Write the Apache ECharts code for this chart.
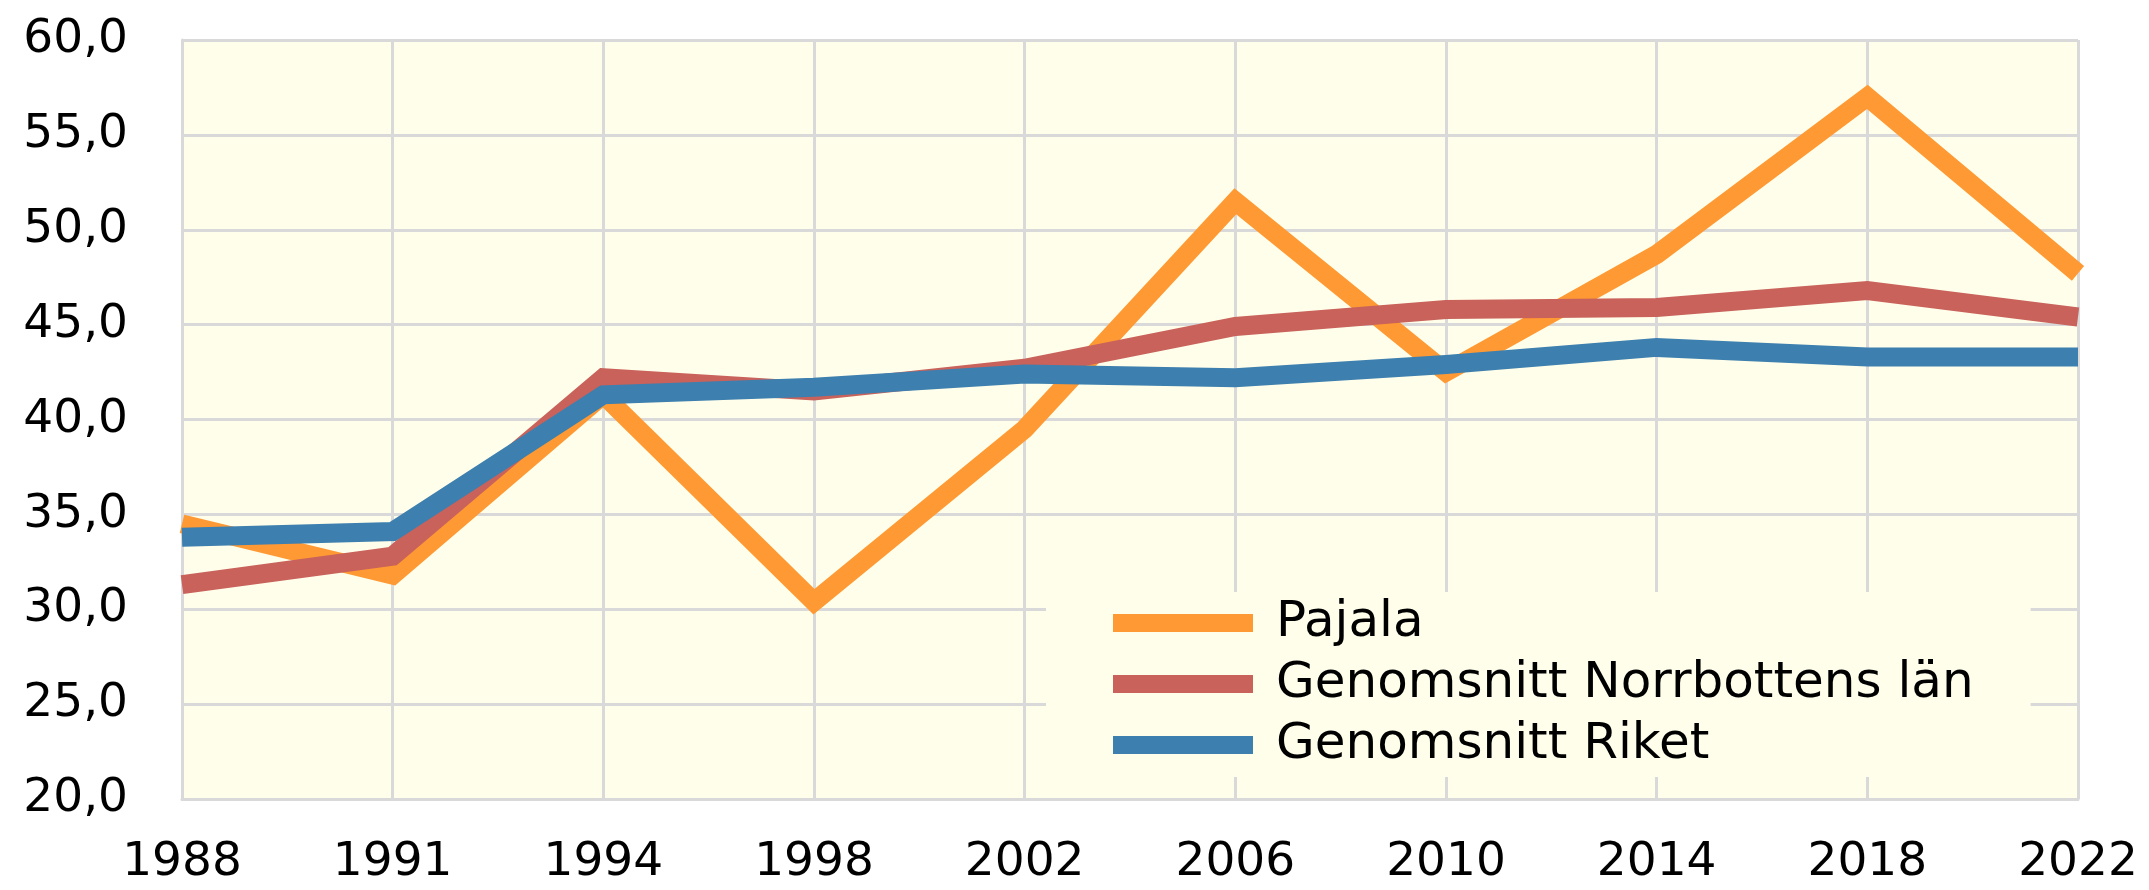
<!DOCTYPE html>
<html>
<head>
<meta charset="utf-8">
<script src="https://cdn.jsdelivr.net/npm/echarts@6/dist/echarts.min.js"></script>
<style>
html,body{margin:0;padding:0;background:#fff;}
#chart{width:2149px;height:890px;}
</style>
</head>
<body>
<div id="chart"></div>
<script>
const years = ['1988','1991','1994','1998','2002','2006','2010','2014','2018','2022'];
const pajala = [34.5, 31.8, 41.3, 30.4, 39.5, 51.5, 42.5, 48.7, 57.0, 47.7];
const norrbotten = [31.3, 32.8, 42.2, 41.5, 42.7, 44.9, 45.8, 45.9, 46.8, 45.4];
const riket = [33.8, 34.1, 41.3, 41.7, 42.4, 42.2, 42.9, 43.8, 43.3, 43.3];
const seriesNames = ['Pajala', 'Genomsnitt Norrbottens län', 'Genomsnitt Riket'];
const seriesColors = ['#FF9933', '#C8625B', '#3D7FAE'];

const chart = echarts.init(document.getElementById('chart'), null, {renderer: 'canvas'});
const font = 'Verdana, "DejaVu Sans", sans-serif';
const gridColor = '#D9D9D9';
const mk = (name, data, color) => ({
  name: name, type: 'line', data: data, symbol: 'none', smooth: false,
  lineStyle: {width: 19, color: color, join: 'miter', cap: 'butt'},
  itemStyle: {color: color},
  emphasis: {disabled: true}
});
chart.setOption({
  animation: false,
  grid: {left: 182, right: 71, top: 40, bottom: 91, show: true, backgroundColor: '#FFFEEA', borderWidth: 0},
  xAxis: {
    type: 'category', data: years, boundaryGap: false,
    axisLine: {show: true, lineStyle: {color: gridColor, width: 3}},
    axisTick: {show: false},
    splitLine: {show: true, lineStyle: {color: gridColor, width: 3}},
    axisLabel: {fontSize: 47, color: '#000', fontFamily: font, margin: 40, interval: 0}
  },
  yAxis: {
    type: 'value', min: 20, max: 60, interval: 5,
    axisLine: {show: true, lineStyle: {color: gridColor, width: 3}},
    axisTick: {show: false},
    splitLine: {show: true, lineStyle: {color: gridColor, width: 3}},
    axisLabel: {fontSize: 47, color: '#000', fontFamily: font, margin: 54,
      formatter: v => v.toFixed(1).replace('.', ',')}
  },
  legend: {
    show: true, orient: 'vertical', left: 1046, top: 592,
    backgroundColor: '#FFFEEA',
    padding: [6, 57, 7, 67],
    itemWidth: 140, itemHeight: 18, itemGap: 11,
    icon: 'rect',
    textStyle: {fontSize: 50, color: '#000', fontFamily: font, lineHeight: 50, padding: [0, 0, 0, 18]},
    data: seriesNames
  },
  series: [
    mk(seriesNames[0], pajala, seriesColors[0]),
    mk(seriesNames[1], norrbotten, seriesColors[1]),
    mk(seriesNames[2], riket, seriesColors[2])
  ]
});
</script>
</body>
</html>
